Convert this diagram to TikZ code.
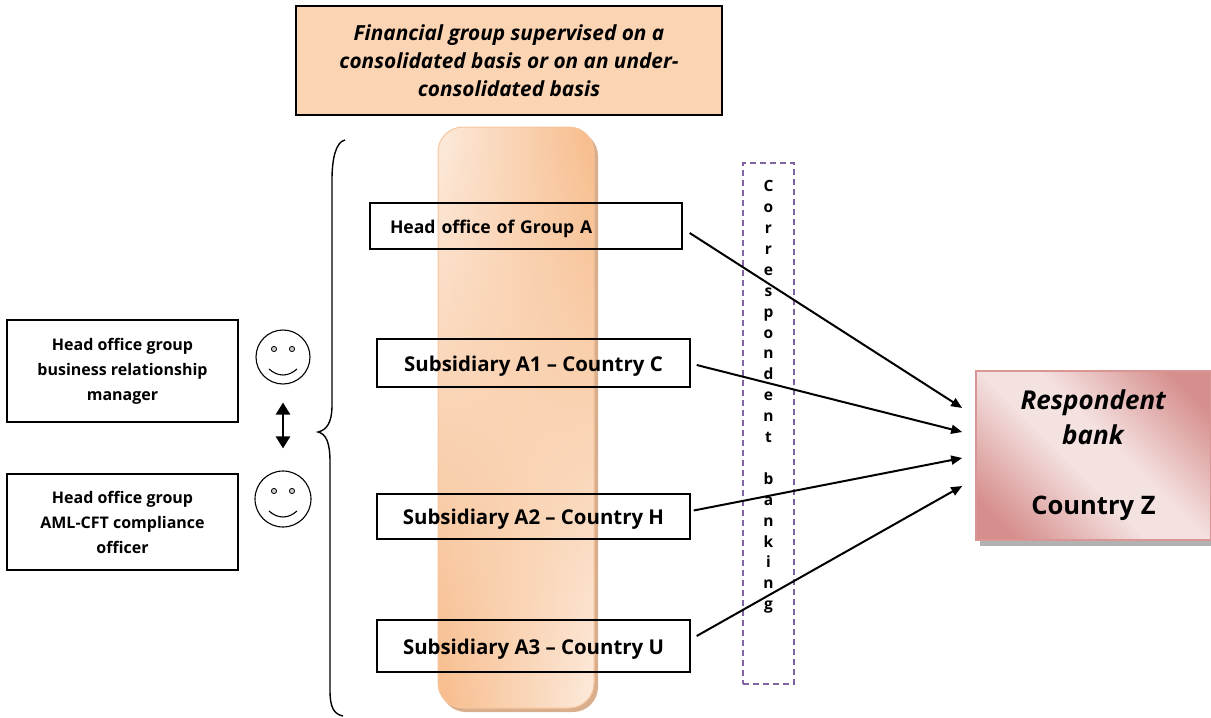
\documentclass[tikz,border=0pt]{standalone}
\usepackage{fontspec}
\setmainfont{Open Sans}
\usetikzlibrary{arrows.meta,calc,fadings}
\definecolor{peach}{HTML}{FBD4B4}
\definecolor{pillight}{HTML}{FDEBDD}
\definecolor{pildark}{HTML}{F7BC8B}
\definecolor{pilborder}{HTML}{F7C49B}
\definecolor{pilshadow}{HTML}{D8AE8C}
\definecolor{rlight}{HTML}{F4E2E1}
\definecolor{rdark}{HTML}{D68F8D}
\definecolor{rborder}{HTML}{D99694}
\definecolor{dashpurple}{HTML}{8064A2}
\pgfdeclareverticalshading{rbankshade}{100bp}{color(0bp)=(rdark); color(22bp)=(rdark); color(45bp)=(rlight); color(55bp)=(rlight); color(78bp)=(rdark); color(100bp)=(rdark)}
\tikzfading[name=fadeup, top color=transparent!100, bottom color=transparent!0]
\newcommand{\lowered}[1]{\raisebox{-3pt}[\height][\depth]{#1}}
\begin{document}
\begin{tikzpicture}[x=1pt,y=-1pt,
  box/.style={draw=black, line width=1.4pt, fill=white, inner sep=0pt, align=center},
  subbox/.style={box, minimum width=313pt, font=\bfseries\fontsize{20.4}{24}\selectfont},
  leftbox/.style={box, minimum width=231pt, font=\bfseries\fontsize{16}{25}\selectfont},
  smiley/.style={draw=black, line width=1.1pt, circle, inner sep=0pt},
  link/.style={line width=2pt, -{Triangle[length=11pt,width=9pt]}},
  dbl/.style={line width=2.6pt, {Triangle[length=12pt,width=14pt]}-{Triangle[length=12pt,width=14pt]}}
]
\useasboundingbox (0,0) rectangle (1211,718);

% top title box
\node[box, fill=peach, line width=2.2pt, minimum width=426pt, minimum height=109pt,
      font=\bfseries\itshape\fontsize{20.8}{28}\selectfont] (top) at (509,60.5)
  {Financial group supervised on a\\consolidated basis or on an under-\\consolidated basis};

% pillar
\fill[pilshadow, rounded corners=25pt] (441,131) rectangle (598,712);
\shade[left color=pillight, right color=pildark, rounded corners=25pt] (438,127) rectangle (594,708);
\shade[left color=pildark, right color=pillight, path fading=fadeup, rounded corners=25pt] (438,127) rectangle (594,708);
\draw[pilborder, line width=1pt, rounded corners=25pt] (438,127) rectangle (594,708);

% brace
\draw[line width=1.4pt] (345,140) .. controls (336,142) and (332,158) .. (332,180) -- (332,405)
  .. controls (332,424) and (326,430) .. (318,432)
  .. controls (326,434) and (330,442) .. (330,462) -- (330,690)
  .. controls (330,708) and (334,714) .. (343,716);

% group boxes
\node[box, minimum width=312pt, minimum height=46pt, text width=272pt, inner xsep=20pt, align=left,
      font=\bfseries\fontsize{17.6}{22}\selectfont, fill=none] (hq) at (526,226) {\lowered{Head office of Group A}};
\node[subbox, minimum height=48pt, fill=none] (s1) at (533.5,363) {\lowered{Subsidiary A1 -- Country C}};
\node[subbox, minimum height=45pt, fill=none] (s2) at (533.5,516.5) {\lowered{Subsidiary A2 -- Country H}};
\node[subbox, minimum height=52pt, fill=none] (s3) at (533.5,646) {\lowered{Subsidiary A3 -- Country U}};

% left boxes
\node[leftbox, minimum height=102pt] (l1) at (122.5,371) {Head office group\\business relationship\\manager};
\node[leftbox, minimum height=96pt] (l2) at (122.5,522) {Head office group\\AML-CFT compliance\\officer};

% smileys
\node[smiley, minimum size=54pt] (sm1) at (283,357) {};
\node[smiley, minimum size=56pt] (sm2) at (283,499) {};
\foreach \s in {sm1,sm2}{
  \draw[line width=0.8pt, fill=gray!40] ($(\s)+(-9,-8)$) circle (2.6pt);
  \draw[line width=0.8pt, fill=gray!40] ($(\s)+(9,-8)$) circle (2.6pt);
  \draw[line width=1.1pt] ($(\s)+(-14,12)$) .. controls ($(\s)+(-5,20)$) and ($(\s)+(5,20)$) .. ($(\s)+(14,12)$);
}
\draw[dbl] ($(sm1.south)+(0,18)$) -- ($(sm2.north)+(0,-22)$);

% correspondent banking dashed box
\node[draw=dashpurple, dash pattern=on 6pt off 4pt, line width=1.3pt, minimum width=51pt, minimum height=521pt, inner sep=0pt] (cb) at (768.5,423.5) {};
\node[anchor=north, align=center, inner sep=0pt, font=\bfseries\fontsize{15.5}{20.9}\selectfont] (cbt) at ($(cb.north)+(0,18)$)
  {C\\o\\r\\r\\e\\s\\p\\o\\n\\d\\e\\n\\t\\\mbox{}\\b\\a\\n\\k\\i\\n\\g};

% respondent bank
\fill[gray!60] (980,377) rectangle (1215,546);
\node[draw=rborder, line width=1.6pt, shading=rbankshade, shading angle=-45, minimum width=235pt, minimum height=169pt,
      inner sep=0pt, align=center, font=\bfseries\fontsize{26}{35}\selectfont] (bank) at (1093.5,455.5)
  {\textit{Respondent}\\\textit{bank}\\\mbox{}\\{\fontsize{25.5}{35}\selectfont Country Z}};

% links
\draw[link] ($(hq.east)+(7,7)$) -- ($(bank.west)+(-13,-47.5)$);
\draw[link] ($(s1.east)+(6,2)$) -- ($(bank.west)+(-13,-23.5)$);
\draw[link] ($(s2.east)+(3,-6)$) -- ($(bank.west)+(-13,2.5)$);
\draw[link] ($(s3.east)+(6,-10)$) -- ($(bank.west)+(-13,30.5)$);
\end{tikzpicture}
\end{document}
